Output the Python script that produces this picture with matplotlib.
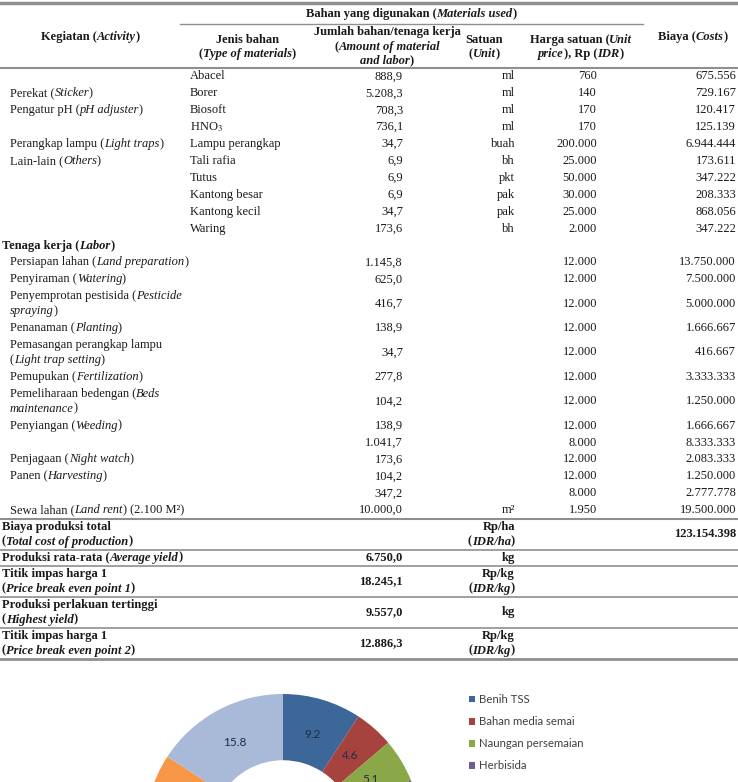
import matplotlib
matplotlib.use('Agg')
import matplotlib.pyplot as plt

# table data (rows of the cost table)
mat_activity = ['', 'Perekat (|Sticker|)', 'Pengatur pH (|pH adjuster|)', '',
                'Perangkap lampu (|Light traps|)', 'Lain-lain (|Others|)', '', '', '', '']
mat_type = ['Abacel', 'Borer', 'Biosoft', 'HNO$_3$', 'Lampu perangkap', 'Tali rafia',
            'Tutus', 'Kantong besar', 'Kantong kecil', 'Waring']
mat_amount = ['888,9', '5.208,3', '708,3', '736,1', '34,7', '6,9', '6,9', '6,9', '34,7', '173,6']
mat_unit = ['ml', 'ml', 'ml', 'ml', 'buah', 'bh', 'pkt', 'pak', 'pak', 'bh']
mat_price = ['760', '140', '170', '170', '200.000', '25.000', '50.000', '30.000', '25.000', '2.000']
mat_cost = ['675.556', '729.167', '120.417', '125.139', '6.944.444', '173.611',
            '347.222', '208.333', '868.056', '347.222']

labor_activity = ['Persiapan lahan (|Land preparation|)', 'Penyiraman (|Watering|)',
                  'Penyemprotan pestisida (|Pesticide\nspraying|)', 'Penanaman (|Planting|)',
                  'Pemasangan perangkap lampu\n(|Light trap setting|)', 'Pemupukan (|Fertilization|)',
                  'Pemeliharaan bedengan (|Beds\nmaintenance|)', 'Penyiangan (|Weeding|)', '',
                  'Penjagaan (|Night watch|)', 'Panen (|Harvesting|)', '',
                  'Sewa lahan (|Land rent|) (2.100 M²)']
labor_amount = ['1.145,8', '625,0', '416,7', '138,9', '34,7', '277,8', '104,2', '138,9',
                '1.041,7', '173,6', '104,2', '347,2', '10.000,0']
labor_unit = [''] * 12 + ['m²']
labor_price = ['12.000'] * 8 + ['8.000', '12.000', '12.000', '8.000', '1.950']
labor_cost = ['13.750.000', '7.500.000', '5.000.000', '1.666.667', '416.667', '3.333.333',
              '1.250.000', '1.666.667', '8.333.333', '2.083.333', '1.250.000', '2.777.778',
              '19.500.000']

sum_label = ['Biaya produksi total\n(|Total cost of production|)', 'Produksi rata-rata (|Average yield|)',
             'Titik impas harga 1\n(|Price break even point 1|)',
             'Produksi perlakuan tertinggi\n(|Highest yield|)',
             'Titik impas harga 1\n(|Price break even point 2|)']
sum_amount = ['', '6.750,0', '18.245,1', '9.557,0', '12.886,3']
sum_unit = ['Rp/ha\n(|IDR/ha|)', 'kg', 'Rp/kg\n(|IDR/kg|)', 'kg', 'Rp/kg\n(|IDR/kg|)']
sum_cost = ['123.154.398', '', '', '', '']

# donut chart data (share of costs, %)
donut_names = ['Benih TSS', 'Bahan media semai', 'Naungan persemaian', 'Herbisida',
               'Pupuk dan pestisida', 'Tenaga kerja', 'Sewa lahan']
donut_values = [9.2, 4.6, 5.1, 3.5, 22.0, 39.8, 15.8]
donut_colors = ['#3d6699', '#a6433f', '#8aa848', '#6f5b97', '#46a3bd', '#f79646', '#a9b9d8']

W, H = 738, 782
SERIF = 'Liberation Serif'
FS = 9
INK = '#1a1a1a'
LINE = '#8f8f8f'

plt.rcParams['mathtext.fontset'] = 'stix'
fig = plt.figure(figsize=(W / 100, H / 100), dpi=100)
renderer = fig.canvas.get_renderer()


def fx(x):
    return x / W


def fy(y):
    return 1 - y / H


def ink_width(s, italic, bold):
    t = fig.text(0, 0, s, fontsize=FS, family=SERIF,
                 style='italic' if italic else 'normal', weight='bold' if bold else 'normal')
    w = t.get_window_extent(renderer).width
    t.remove()
    return w


# pen advance of a string (spaces and side bearings included)
def advance(s, italic, bold):
    return ink_width('l' + s + 'l', italic, bold) - ink_width('ll', italic, bold)


# draw text where '|' toggles italic, pieces are placed one after another
def rich(x, y, s, ha='left', bold=False, ls=15):
    lines = s.split('\n')
    italic = False
    n = len(lines)
    for i, line in enumerate(lines):
        segs = []
        for j, p in enumerate(line.split('|')):
            if j > 0:
                italic = not italic
            if p:
                segs.append((p, italic))
        yy = y + (i - (n - 1) / 2) * ls
        arts, adv = [], []
        for p, it in segs:
            t = fig.text(0, fy(yy), p, fontsize=FS, family=SERIF, color=INK,
                         style='italic' if it else 'normal',
                         weight='bold' if bold else 'normal', va='center')
            arts.append(t)
            adv.append(advance(p, it, bold))
        total = sum(adv)
        if ha == 'left':
            x0 = x
        elif ha == 'right':
            x0 = x - total
        else:
            x0 = x - total / 2
        for t, a in zip(arts, adv):
            t.set_x(fx(x0))
            x0 += a


def hline(y, x0=0, x1=W, lw=1.0):
    fig.add_artist(plt.Line2D([fx(x0), fx(x1)], [fy(y), fy(y)], color=LINE, lw=lw))


# column anchors (pixels)
X_ACT, X_SEC, X_TYPE = 10, 2, 190
X_AMT, X_UNIT, X_PRICE, X_COST = 403, 515, 597, 736

# header
hline(3, lw=2.5)
rich(411, 14, 'Bahan yang digunakan (|Materials used|)', 'center', True)
hline(24, 180, 643, lw=1.0)
rich(90, 37, 'Kegiatan (|Activity|)', 'center', True)
rich(247, 47, 'Jenis bahan\n(|Type of materials|)', 'center', True, 14.5)
rich(387, 47, 'Jumlah bahan/tenaga kerja\n(|Amount of material\nand labor|)', 'center', True, 14.5)
rich(484, 47, 'Satuan\n(|Unit|)', 'center', True, 14.5)
rich(581, 47, 'Harga satuan (|Unit\nprice|), Rp (|IDR|)', 'center', True, 14.5)
rich(693, 37, 'Biaya (|Costs|)', 'center', True)
hline(68, lw=1.5)

# materials rows
ROW = 16.9
y = 68
for i in range(len(mat_type)):
    yc = y + ROW / 2
    rich(X_ACT, yc, mat_activity[i])
    rich(X_TYPE, yc, mat_type[i])
    rich(X_AMT, yc, mat_amount[i], 'right')
    rich(X_UNIT, yc, mat_unit[i], 'right')
    rich(X_PRICE, yc, mat_price[i], 'right')
    rich(X_COST, yc, mat_cost[i], 'right')
    y += ROW

rich(X_SEC, y + ROW / 2 + 1, 'Tenaga kerja (|Labor|)', bold=True)
y += ROW

# labor rows
for i in range(len(labor_amount)):
    h = ROW + 15 * labor_activity[i].count('\n')
    yc = y + h / 2
    rich(X_ACT, yc, labor_activity[i])
    rich(X_AMT, yc, labor_amount[i], 'right')
    rich(X_UNIT, yc, labor_unit[i], 'right')
    rich(X_PRICE, yc, labor_price[i], 'right')
    rich(X_COST, yc, labor_cost[i], 'right')
    y += h

# summary rows
hline(y, lw=1.5)
for i in range(len(sum_label)):
    h = 16 + 15 * sum_label[i].count('\n')
    yc = y + h / 2
    rich(X_SEC, yc, sum_label[i], bold=True)
    rich(X_AMT, yc, sum_amount[i], 'right', True)
    rich(X_UNIT, yc, sum_unit[i], 'right', True)
    rich(X_COST, yc, sum_cost[i], 'right', True)
    y += h
    hline(y, lw=2.0 if i == len(sum_label) - 1 else 1.2)

# donut chart, cut by the bottom edge of the figure
R, CX, CY = 138, 283, 832
ax = fig.add_axes([fx(CX - R), fy(CY + R), 2 * R / W, 2 * R / H])
wedges, _, autotexts = ax.pie(donut_values, colors=donut_colors, startangle=90, counterclock=False,
                              radius=1, autopct='%.1f', pctdistance=0.74,
                              wedgeprops=dict(width=0.48, linewidth=0),
                              textprops=dict(fontsize=8.5, family='Lato', color='#1f2b45'))
ax.set_xlim(-1, 1)
ax.set_ylim(-1, 1)
ax.set_aspect('equal')
ax.axis('off')

ax.legend(wedges, donut_names, loc='upper left', bbox_to_anchor=(fx(469), fy(694)),
          bbox_transform=fig.transFigure, frameon=False, handlelength=0.55, handleheight=0.55,
          handletextpad=0.3, labelspacing=0.98, borderpad=0, borderaxespad=0,
          prop=dict(family='Lato', size=8.2), labelcolor='#404040')

fig.savefig('out.png', dpi=100)
